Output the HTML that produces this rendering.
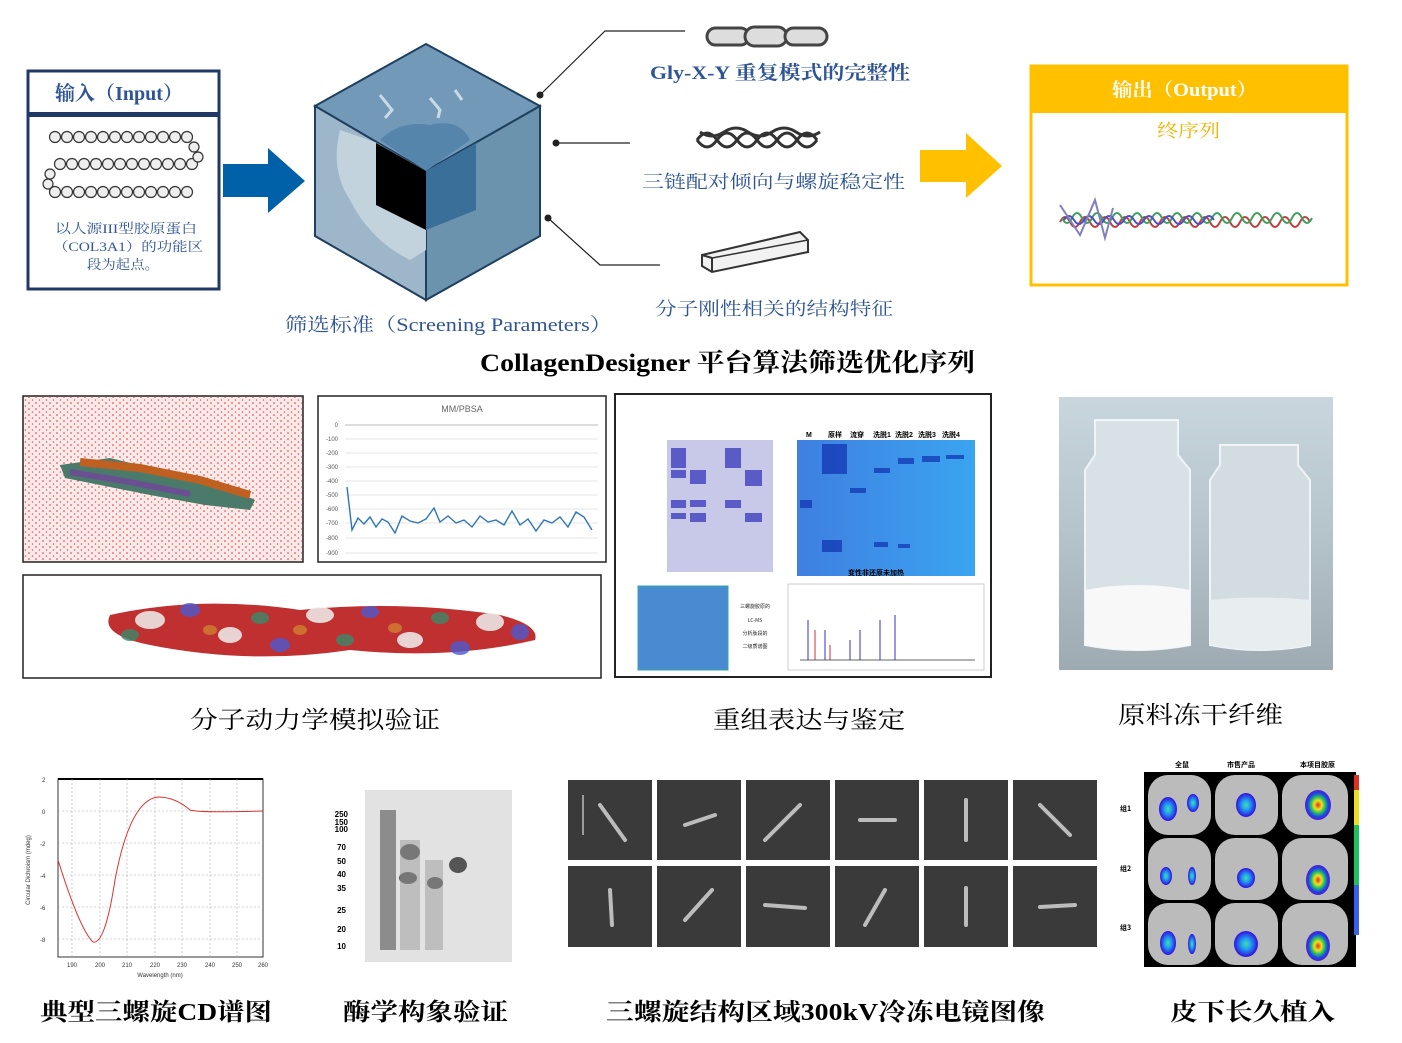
<!DOCTYPE html>
<html><head><meta charset="utf-8"><style>
html,body{margin:0;padding:0;background:#fff;}
svg{display:block;}
.s{font-family:"Liberation Serif","Noto Serif CJK SC",serif;}
</style></head><body>
<svg width="1402" height="1043" viewBox="0 0 1402 1043" xmlns="http://www.w3.org/2000/svg" class="s">
<defs>
<pattern id="dots" width="7" height="6" patternUnits="userSpaceOnUse"><circle cx="1" cy="1" r="0.8" fill="#e03030"/><circle cx="4.5" cy="4" r="0.8" fill="#e55"/></pattern>
<linearGradient id="vial" x1="0" y1="0" x2="0" y2="1"><stop offset="0" stop-color="#c9d6dd"/><stop offset="0.5" stop-color="#b5c3cb"/><stop offset="1" stop-color="#9eaab2"/></linearGradient>
<linearGradient id="gelb" x1="0" y1="0" x2="1" y2="0"><stop offset="0" stop-color="#3f7fe0"/><stop offset="1" stop-color="#3aa4f0"/></linearGradient>
<radialGradient id="hot" cx="0.5" cy="0.5" r="0.5"><stop offset="0" stop-color="#e03020"/><stop offset="0.3" stop-color="#f0e020"/><stop offset="0.55" stop-color="#20c060"/><stop offset="0.8" stop-color="#2040f0"/><stop offset="1" stop-color="#5020c0"/></radialGradient>
<radialGradient id="cool" cx="0.5" cy="0.5" r="0.5"><stop offset="0" stop-color="#40e0a0"/><stop offset="0.4" stop-color="#20a0f0"/><stop offset="1" stop-color="#3010e0"/></radialGradient>
</defs>

<!-- Input box -->
<rect x="28" y="71" width="191" height="218" fill="#fff" stroke="#1f3864" stroke-width="3"/>
<rect x="28" y="112" width="191" height="5" fill="#1f3864"/>
<text x="55" y="100" font-size="20" font-weight="bold" fill="#2f5597" textLength="128" lengthAdjust="spacingAndGlyphs">输入（Input）</text>
<g fill="#eee" stroke="#333" stroke-width="1.2">
<g id="beads"><circle cx="55" cy="137" r="5.5"/><circle cx="67" cy="137" r="5.5"/><circle cx="79" cy="137" r="5.5"/><circle cx="91" cy="137" r="5.5"/><circle cx="103" cy="137" r="5.5"/><circle cx="115" cy="137" r="5.5"/><circle cx="127" cy="137" r="5.5"/><circle cx="139" cy="137" r="5.5"/><circle cx="151" cy="137" r="5.5"/><circle cx="163" cy="137" r="5.5"/><circle cx="175" cy="137" r="5.5"/><circle cx="187" cy="137" r="5.5"/></g>
<use href="#beads" x="5" y="27"/><use href="#beads" x="0" y="55"/>
<circle cx="194" cy="147" r="5"/><circle cx="198" cy="157" r="5"/><circle cx="50" cy="174" r="5"/><circle cx="48" cy="184" r="5"/>
</g>
<text x="55" y="233" font-size="13" fill="#2f5597" textLength="142" lengthAdjust="spacingAndGlyphs">以人源III型胶原蛋白</text>
<text x="53" y="251" font-size="13" fill="#2f5597" textLength="150" lengthAdjust="spacingAndGlyphs">（COL3A1）的功能区</text>
<text x="87" y="269" font-size="13" fill="#2f5597" textLength="72" lengthAdjust="spacingAndGlyphs">段为起点。</text>

<!-- blue arrow -->
<polygon points="223,164 268,164 268,148 305,181 268,213 268,197 223,197" fill="#0060a8"/>

<!-- cube -->
<polygon points="426,44 540,106 426,171 315,106" fill="#7399b9" stroke="#1f3f5f" stroke-width="2"/>
<polygon points="315,106 426,171 426,300 315,236" fill="#9db6ca" stroke="#1f3f5f" stroke-width="2"/>
<polygon points="426,171 540,106 540,236 426,300" fill="#6b93ad" stroke="#1f3f5f" stroke-width="2"/>
<path d="M380,140 Q400,120 430,125 Q460,118 470,140 L426,171 Z" fill="#5585ab"/>
<path d="M340,130 Q330,170 350,200 Q370,240 410,260 L426,250 L426,171 L375,142 Z" fill="#c3d3de"/>
<polygon points="376,143 426,171 426,230 376,205" fill="#000"/>
<polygon points="426,171 476,143 476,210 426,230" fill="#3a6f99"/>
<path d="M380,95 L392,110 L385,118 M430,98 L440,110 L438,118 M455,90 L462,100" stroke="#c8dae6" stroke-width="3" fill="none"/>

<!-- connectors -->
<g stroke="#222" stroke-width="1.2" fill="none">
<polyline points="540,95 605,31 685,31"/><line x1="556" y1="143" x2="630" y2="143"/><polyline points="548,218 600,265 660,265"/>
</g>
<circle cx="540" cy="95" r="3.5" fill="#222"/><circle cx="556" cy="143" r="3.5" fill="#222"/><circle cx="548" cy="218" r="3.5" fill="#222"/>

<!-- chain icon -->
<g fill="none" stroke="#444" stroke-width="3">
<rect x="707" y="28" width="42" height="17" rx="8.5" fill="#ddd"/><rect x="745" y="27" width="42" height="19" rx="9.5" fill="#ddd"/><rect x="785" y="28" width="42" height="17" rx="8.5" fill="#ddd"/>
</g>
<text x="650" y="79" font-size="19" font-weight="bold" fill="#2f5597" textLength="260" lengthAdjust="spacingAndGlyphs">Gly-X-Y 重复模式的完整性</text>
<!-- rope icon -->
<g fill="none" stroke="#333" stroke-width="3">
<path d="M697,140 q10,-14 20,0 t20,0 t20,0 t20,0 t20,0 t20,0"/>
<path d="M697,140 q10,14 20,0 t20,0 t20,0 t20,0 t20,0 t20,0"/>
<path d="M700,132 q12,8 24,0 t24,0 t24,0 t24,0 t24,0"/>
</g>
<text x="642" y="188" font-size="18" fill="#2f5597" textLength="263" lengthAdjust="spacingAndGlyphs">三链配对倾向与螺旋稳定性</text>
<!-- rod -->
<polygon points="702,255 800,232 808,240 808,252 712,272 702,266" fill="#f2f2f2" stroke="#333" stroke-width="2"/>
<line x1="712" y1="258" x2="712" y2="272" stroke="#333" stroke-width="2"/><line x1="702" y1="255" x2="712" y2="258" stroke="#333" stroke-width="2"/><line x1="712" y1="258" x2="808" y2="240" stroke="#333" stroke-width="1.5"/>
<text x="655" y="315" font-size="18" fill="#2f5597" textLength="238" lengthAdjust="spacingAndGlyphs">分子刚性相关的结构特征</text>
<text x="285" y="331" font-size="19" fill="#2f5597" textLength="327" lengthAdjust="spacingAndGlyphs">筛选标准（Screening Parameters）</text>
<text x="480" y="371" font-size="25" font-weight="bold" fill="#000" textLength="495" lengthAdjust="spacingAndGlyphs">CollagenDesigner 平台算法筛选优化序列</text>

<!-- yellow arrow -->
<polygon points="920,150 966,150 966,133 1002,166 966,198 966,182 920,182" fill="#ffc000"/>
<!-- output box -->
<rect x="1031" y="66" width="316" height="219" fill="#fff" stroke="#ffc000" stroke-width="3"/>
<rect x="1031" y="66" width="316" height="47" fill="#ffc000"/>
<text x="1112" y="96" font-size="19" font-weight="bold" fill="#fff" textLength="145" lengthAdjust="spacingAndGlyphs">输出（Output）</text>
<text x="1157" y="137" font-size="18" fill="#f0b400" textLength="63" lengthAdjust="spacingAndGlyphs">终序列</text>
<g stroke-width="2" fill="none">
<path d="M1060,222 q5,-10 10,0 t10,0 t10,0 t10,0 t10,0 t10,0 t10,0 t10,0 t10,0 t10,0 t10,0 t10,0 t10,0 t10,0 t10,0 t10,0 t10,0 t10,0 t10,0 t10,0 t10,0 t10,0 t10,0 t10,0 t10,0" stroke="#c04040"/>
<path d="M1062,218 q5,10 10,0 t10,0 t10,0 t10,0 t10,0 t10,0 t10,0 t10,0 t10,0 t10,0 t10,0 t10,0 t10,0 t10,0 t10,0 t10,0 t10,0 t10,0 t10,0 t10,0 t10,0 t10,0 t10,0 t10,0 t10,0" stroke="#40a060"/>
<path d="M1064,220 q5,-8 10,0 t10,0 t10,0 t10,0 t10,0 t10,0 t10,0 t10,0 t10,0 t10,0 t10,0 t10,0 t10,0 t10,0 t10,0" stroke="#5050c0"/>
<path d="M1060,205 l20,30 l15,-35 l10,38 l8,-30" stroke="#8080c0"/>
</g>

<!-- Row 2: MD box -->
<rect x="23" y="396" width="280" height="166" fill="#fbeaea" stroke="#222" stroke-width="1.5"/>
<rect x="24" y="397" width="278" height="164" fill="url(#dots)"/>
<path d="M60,465 L110,458 L160,470 L215,482 L255,500 L250,510 L205,505 L150,495 L100,485 L65,478 Z" fill="#4a7a6a"/>
<path d="M80,462 L140,468 L200,480 L250,495" stroke="#c06020" stroke-width="8" fill="none"/>
<path d="M70,472 L130,482 L190,494" stroke="#6a5090" stroke-width="6" fill="none"/>

<!-- MM/PBSA chart -->
<rect x="318" y="396" width="288" height="166" fill="#fff" stroke="#222" stroke-width="1.5"/>
<text x="462" y="412" font-size="9" fill="#666" text-anchor="middle" font-family="Liberation Sans,sans-serif">MM/PBSA</text>
<g stroke="#ddd" stroke-width="0.7">
<line x1="345" y1="439" x2="598" y2="439"/><line x1="345" y1="453" x2="598" y2="453"/><line x1="345" y1="467" x2="598" y2="467"/><line x1="345" y1="481" x2="598" y2="481"/><line x1="345" y1="495" x2="598" y2="495"/><line x1="345" y1="509" x2="598" y2="509"/><line x1="345" y1="523" x2="598" y2="523"/><line x1="345" y1="538" x2="598" y2="538"/><line x1="345" y1="553" x2="598" y2="553"/>
</g>
<g font-size="6" fill="#555" font-family="Liberation Sans,sans-serif" text-anchor="end">
<text x="338" y="427">0</text><text x="338" y="441">-100</text><text x="338" y="455">-200</text><text x="338" y="469">-300</text><text x="338" y="483">-400</text><text x="338" y="497">-500</text><text x="338" y="511">-600</text><text x="338" y="525">-700</text><text x="338" y="540">-800</text><text x="338" y="555">-900</text>
</g>
<line x1="345" y1="425" x2="598" y2="425" stroke="#bbb"/>
<polyline points="347,487 352,530 358,518 364,524 370,517 376,527 382,519 388,522 395,533 402,516 410,521 418,523 426,519 434,508 440,522 448,516 456,523 464,520 472,527 480,516 488,522 496,520 504,525 512,511 520,525 528,519 536,531 544,520 552,523 560,517 568,527 576,512 584,517 592,530" fill="none" stroke="#2e75b6" stroke-width="1.4"/>

<!-- molecule surface -->
<rect x="23" y="575" width="578" height="103" fill="#fff" stroke="#222" stroke-width="1.5"/>
<path d="M110,615 Q200,595 300,610 Q400,600 500,615 Q540,625 535,640 Q450,660 350,650 Q250,665 150,645 Q100,635 110,615 Z" fill="#c03030"/>
<g fill="#f0f0f0" opacity="0.85"><ellipse cx="150" cy="620" rx="15" ry="9"/><ellipse cx="230" cy="635" rx="12" ry="8"/><ellipse cx="320" cy="615" rx="14" ry="8"/><ellipse cx="410" cy="640" rx="13" ry="8"/><ellipse cx="490" cy="622" rx="14" ry="9"/></g>
<g fill="#4a5ad0" opacity="0.8"><ellipse cx="190" cy="610" rx="10" ry="7"/><ellipse cx="280" cy="645" rx="10" ry="7"/><ellipse cx="370" cy="612" rx="9" ry="6"/><ellipse cx="460" cy="648" rx="10" ry="7"/><ellipse cx="520" cy="632" rx="9" ry="8"/></g>
<g fill="#3a8a6a" opacity="0.8"><ellipse cx="130" cy="635" rx="9" ry="6"/><ellipse cx="260" cy="618" rx="9" ry="6"/><ellipse cx="345" cy="640" rx="9" ry="6"/><ellipse cx="440" cy="618" rx="9" ry="6"/></g>
<g fill="#d08030" opacity="0.8"><ellipse cx="210" cy="630" rx="7" ry="5"/><ellipse cx="300" cy="630" rx="7" ry="5"/><ellipse cx="395" cy="628" rx="7" ry="5"/></g>

<!-- gel panel -->
<rect x="615" y="394" width="376" height="283" fill="#fff" stroke="#222" stroke-width="2"/>
<rect x="667" y="440" width="106" height="132" fill="#c8c8e8"/>
<g fill="#4040c0" opacity="0.8">
<rect x="671" y="448" width="15" height="20"/><rect x="671" y="470" width="15" height="8"/><rect x="671" y="500" width="15" height="8"/><rect x="690" y="470" width="16" height="14"/><rect x="690" y="500" width="16" height="7"/><rect x="690" y="513" width="16" height="9"/><rect x="725" y="448" width="16" height="20"/><rect x="725" y="500" width="16" height="8"/><rect x="745" y="470" width="17" height="16"/><rect x="745" y="513" width="17" height="9"/><rect x="671" y="513" width="15" height="6"/>
</g>
<rect x="797" y="440" width="178" height="136" fill="url(#gelb)"/>
<g fill="#1030b0" opacity="0.7"><rect x="822" y="444" width="25" height="30"/><rect x="822" y="540" width="20" height="12"/><rect x="800" y="500" width="12" height="8"/><rect x="850" y="488" width="16" height="5"/><rect x="874" y="468" width="16" height="5"/><rect x="898" y="458" width="16" height="6"/><rect x="922" y="456" width="18" height="6"/><rect x="946" y="455" width="18" height="4"/><rect x="874" y="542" width="14" height="5"/><rect x="898" y="544" width="12" height="4"/></g>
<text x="876" y="575" font-size="7" font-weight="bold" text-anchor="middle" font-family="Liberation Sans,'Noto Sans CJK SC',sans-serif">变性非还原未加热</text>
<g font-size="7" font-weight="bold" font-family="Liberation Sans,'Noto Sans CJK SC',sans-serif"><text x="806" y="437">M</text><text x="828" y="437">原样</text><text x="850" y="437">流穿</text><text x="873" y="437">洗脱1</text><text x="895" y="437">洗脱2</text><text x="918" y="437">洗脱3</text><text x="942" y="437">洗脱4</text></g>
<rect x="638" y="586" width="90" height="84" fill="#4a8ad0"/>
<rect x="638" y="586" width="90" height="84" fill="none" stroke="#3aa" stroke-width="1"/>
<g font-size="5" fill="#222" font-family="'Noto Sans CJK SC',sans-serif" text-anchor="middle"><text x="755" y="608">三螺旋胶原的</text><text x="755" y="622">LC-MS</text><text x="755" y="635">分析肽段的</text><text x="755" y="648">二级质谱图</text></g>
<rect x="788" y="584" width="196" height="86" fill="#fff" stroke="#ccc"/>
<g stroke="#3030d0" stroke-width="1"><line x1="808" y1="660" x2="808" y2="620"/><line x1="825" y1="660" x2="825" y2="630"/><line x1="850" y1="660" x2="850" y2="640"/><line x1="860" y1="660" x2="860" y2="630"/><line x1="880" y1="660" x2="880" y2="620"/><line x1="895" y1="660" x2="895" y2="615"/></g>
<g stroke="#d03030" stroke-width="1"><line x1="815" y1="660" x2="815" y2="630"/><line x1="830" y1="660" x2="830" y2="645"/></g>
<line x1="800" y1="660" x2="975" y2="660" stroke="#333" stroke-width="0.7"/>

<!-- vials photo -->
<rect x="1059" y="397" width="274" height="273" fill="url(#vial)"/>
<path d="M1085,470 L1095,455 L1095,420 L1178,420 L1178,455 L1190,470 L1190,645 Q1137,655 1085,645 Z" fill="#d8e2e6" stroke="#f0f4f6" stroke-width="2"/>
<path d="M1085,590 Q1137,580 1190,590 L1190,645 Q1137,655 1085,645 Z" fill="#f8f8f8"/>
<path d="M1210,480 L1220,465 L1220,445 L1298,445 L1298,465 L1310,480 L1310,645 Q1260,655 1210,645 Z" fill="#d2dce1" stroke="#f0f4f6" stroke-width="2"/>
<path d="M1210,600 Q1260,595 1310,600 L1310,645 Q1260,655 1210,645 Z" fill="#e8eef0"/>

<!-- row 2 labels -->
<g font-size="24" fill="#000">
<text x="190" y="728" textLength="250" lengthAdjust="spacingAndGlyphs">分子动力学模拟验证</text>
<text x="713" y="728" textLength="192" lengthAdjust="spacingAndGlyphs">重组表达与鉴定</text>
<text x="1118" y="723" textLength="165" lengthAdjust="spacingAndGlyphs">原料冻干纤维</text>
</g>

<!-- CD chart -->
<rect x="58" y="779" width="205" height="178" fill="#fff" stroke="#333" stroke-width="1"/>
<line x1="58" y1="779" x2="263" y2="779" stroke="#000" stroke-width="2"/>
<g stroke="#aaa" stroke-width="0.6" stroke-dasharray="2,2">
<line x1="58" y1="811" x2="263" y2="811"/><line x1="58" y1="843" x2="263" y2="843"/><line x1="58" y1="875" x2="263" y2="875"/><line x1="58" y1="907" x2="263" y2="907"/><line x1="58" y1="939" x2="263" y2="939"/>
<line x1="72" y1="779" x2="72" y2="957"/><line x1="100" y1="779" x2="100" y2="957"/><line x1="127" y1="779" x2="127" y2="957"/><line x1="155" y1="779" x2="155" y2="957"/><line x1="182" y1="779" x2="182" y2="957"/><line x1="210" y1="779" x2="210" y2="957"/><line x1="237" y1="779" x2="237" y2="957"/>
</g>
<path d="M58,860 Q80,930 93,942 Q105,945 115,880 Q130,800 158,797 Q175,797 190,810 Q200,813 263,811" fill="none" stroke="#e03030" stroke-width="1"/>
<g font-size="6" fill="#333" font-family="Liberation Sans,sans-serif"><text x="42" y="782">2</text><text x="42" y="814">0</text><text x="40" y="846">-2</text><text x="40" y="878">-4</text><text x="40" y="910">-6</text><text x="40" y="942">-8</text>
<text x="67" y="967">190</text><text x="95" y="967">200</text><text x="122" y="967">210</text><text x="150" y="967">220</text><text x="177" y="967">230</text><text x="205" y="967">240</text><text x="232" y="967">250</text><text x="258" y="967">260</text>
<text x="160" y="977" text-anchor="middle">Wavelength (nm)</text>
<text transform="translate(30,870) rotate(-90)" text-anchor="middle">Circular Dichroism (mdeg)</text></g>

<!-- enzyme gel -->
<rect x="365" y="790" width="147" height="172" fill="#e2e2e2"/>
<g fill="#777" opacity="0.8"><rect x="380" y="810" width="16" height="140"/></g>
<g fill="#555"><ellipse cx="410" cy="852" rx="10" ry="8"/><ellipse cx="408" cy="878" rx="9" ry="6"/><ellipse cx="435" cy="883" rx="8" ry="6"/><ellipse cx="458" cy="865" rx="9" ry="8"/></g>
<rect x="400" y="840" width="20" height="110" fill="#999" opacity="0.5"/><rect x="425" y="860" width="18" height="90" fill="#999" opacity="0.5"/>
<g font-size="8" font-weight="bold" font-family="Liberation Sans,sans-serif" text-anchor="end"><text x="348" y="817">250</text><text x="348" y="825">150</text><text x="348" y="832">100</text><text x="346" y="850">70</text><text x="346" y="864">50</text><text x="346" y="877">40</text><text x="346" y="891">35</text><text x="346" y="913">25</text><text x="346" y="932">20</text><text x="346" y="949">10</text></g>

<!-- cryo grid -->
<g fill="#3a3a3a">
<rect x="568" y="780" width="84" height="80"/><rect x="657" y="780" width="84" height="80"/><rect x="746" y="780" width="84" height="80"/><rect x="835" y="780" width="84" height="80"/><rect x="924" y="780" width="84" height="80"/><rect x="1013" y="780" width="84" height="80"/>
<rect x="568" y="866" width="84" height="81"/><rect x="657" y="866" width="84" height="81"/><rect x="746" y="866" width="84" height="81"/><rect x="835" y="866" width="84" height="81"/><rect x="924" y="866" width="84" height="81"/><rect x="1013" y="866" width="84" height="81"/>
</g>
<g stroke="#ddd" stroke-width="4" stroke-linecap="round" opacity="0.8">
<line x1="600" y1="805" x2="625" y2="840"/><line x1="685" y1="825" x2="715" y2="815"/><line x1="765" y1="840" x2="800" y2="805"/><line x1="860" y1="820" x2="895" y2="820"/><line x1="966" y1="800" x2="966" y2="840"/><line x1="1040" y1="805" x2="1070" y2="835"/>
<line x1="610" y1="890" x2="612" y2="925"/><line x1="685" y1="920" x2="712" y2="890"/><line x1="765" y1="905" x2="805" y2="908"/><line x1="865" y1="925" x2="885" y2="890"/><line x1="966" y1="888" x2="966" y2="925"/><line x1="1040" y1="907" x2="1075" y2="905"/>
</g>
<line x1="583" y1="795" x2="583" y2="835" stroke="#fff" stroke-width="1"/>

<!-- mouse grid -->
<rect x="1144" y="772" width="212" height="195" fill="#000"/>
<g fill="#bbb"><rect x="1148" y="775" width="63" height="60" rx="20"/><rect x="1215" y="775" width="63" height="60" rx="20"/><rect x="1282" y="775" width="66" height="60" rx="20"/>
<rect x="1148" y="838" width="63" height="62" rx="20"/><rect x="1215" y="838" width="63" height="62" rx="20"/><rect x="1282" y="838" width="66" height="62" rx="20"/>
<rect x="1148" y="903" width="63" height="62" rx="20"/><rect x="1215" y="903" width="63" height="62" rx="20"/><rect x="1282" y="903" width="66" height="62" rx="20"/></g>
<g fill="url(#cool)"><ellipse cx="1168" cy="809" rx="9" ry="12"/><ellipse cx="1193" cy="803" rx="6" ry="9"/><ellipse cx="1166" cy="876" rx="6" ry="9"/><ellipse cx="1192" cy="876" rx="4" ry="9"/><ellipse cx="1168" cy="943" rx="8" ry="12"/><ellipse cx="1192" cy="944" rx="4" ry="10"/><ellipse cx="1246" cy="805" rx="10" ry="12"/><ellipse cx="1246" cy="878" rx="9" ry="10"/><ellipse cx="1246" cy="944" rx="12" ry="13"/></g>
<g fill="url(#hot)"><ellipse cx="1318" cy="805" rx="13" ry="15"/><ellipse cx="1318" cy="880" rx="12" ry="15"/><ellipse cx="1318" cy="946" rx="12" ry="15"/></g>
<rect x="1354" y="775" width="5" height="160" fill="#3a60f0"/><rect x="1354" y="775" width="5" height="50" fill="#e8e020"/><rect x="1354" y="775" width="5" height="15" fill="#e03020"/><rect x="1354" y="825" width="5" height="60" fill="#20c060"/>
<g font-size="7" font-weight="bold" font-family="'Noto Sans CJK SC',sans-serif"><text x="1175" y="767">全鼠</text><text x="1227" y="767">市售产品</text><text x="1300" y="767">本项目胶原</text><text x="1120" y="811">组1</text><text x="1120" y="871">组2</text><text x="1120" y="930">组3</text></g>

<!-- bottom labels -->
<g font-size="24" font-weight="bold" fill="#000">
<text x="40" y="1020" textLength="232" lengthAdjust="spacingAndGlyphs">典型三螺旋CD谱图</text>
<text x="343" y="1020" textLength="165" lengthAdjust="spacingAndGlyphs">酶学构象验证</text>
<text x="606" y="1020" textLength="439" lengthAdjust="spacingAndGlyphs">三螺旋结构区域300kV冷冻电镜图像</text>
<text x="1170" y="1020" textLength="165" lengthAdjust="spacingAndGlyphs">皮下长久植入</text>
</g>
</svg>
</body></html>
